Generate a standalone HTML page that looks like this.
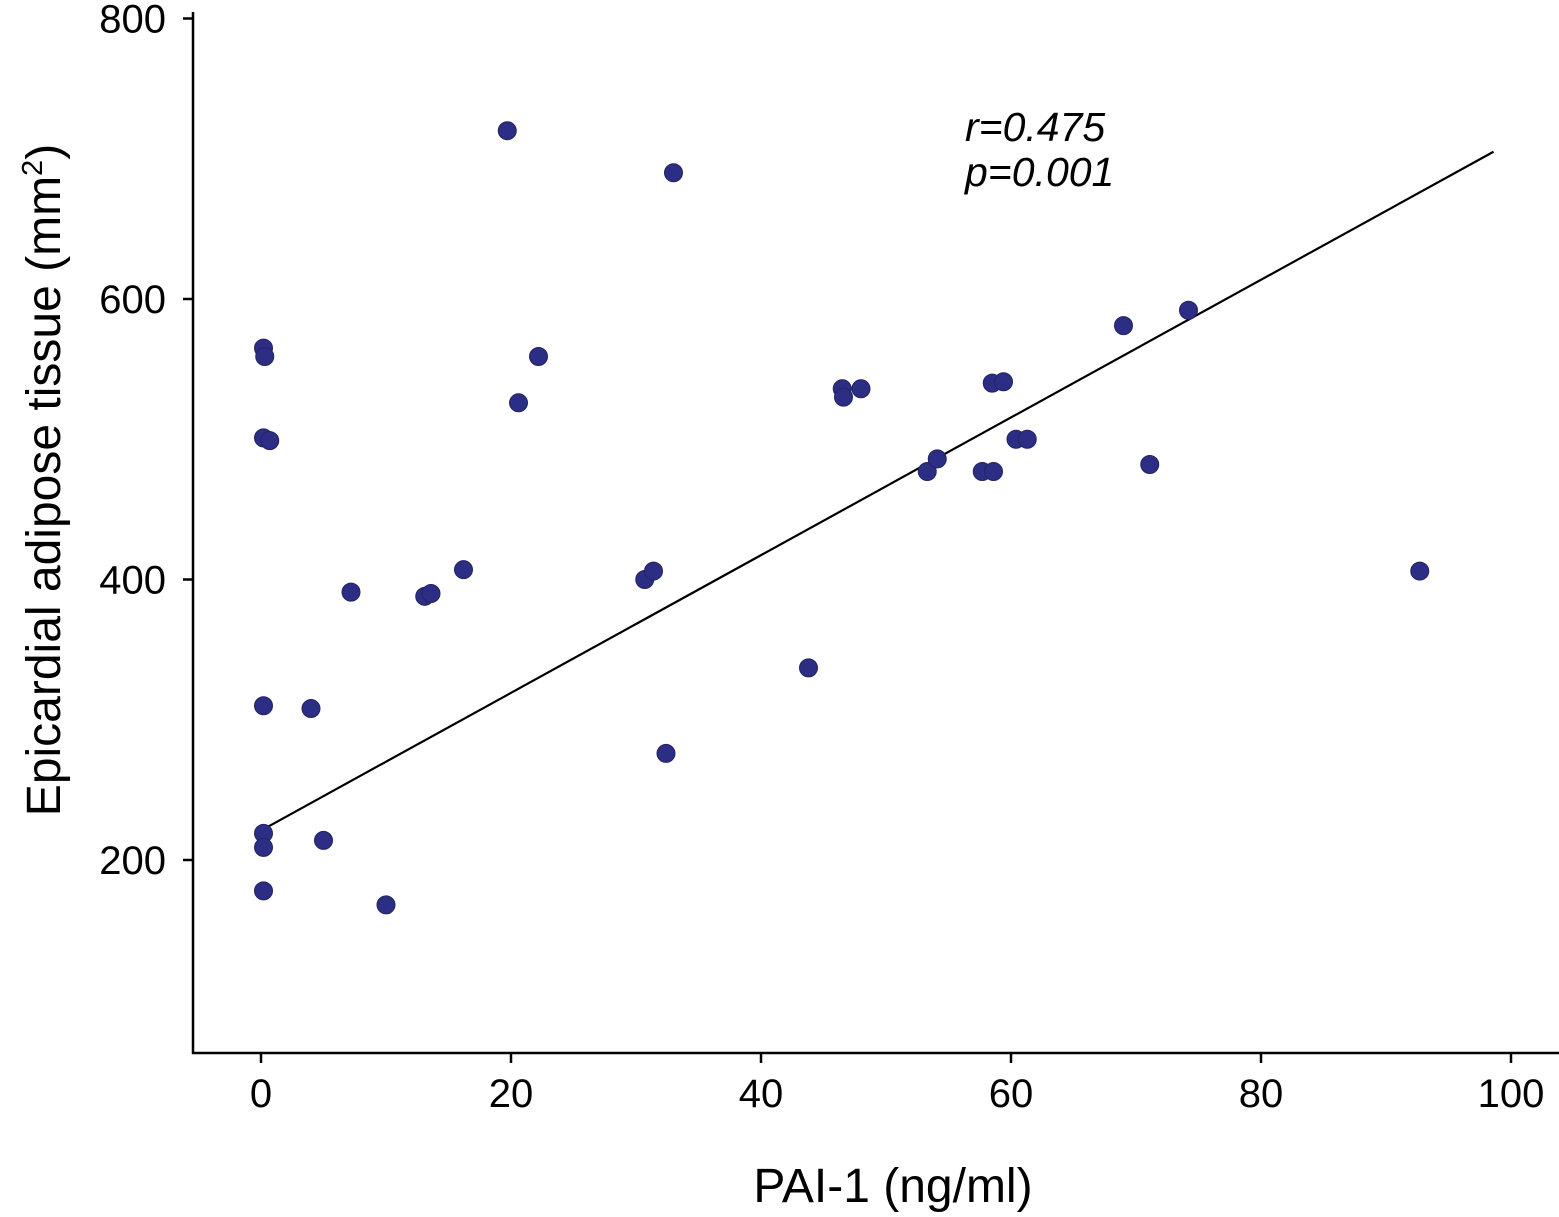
<!DOCTYPE html>
<html><head><meta charset="utf-8"><style>
html,body{margin:0;padding:0;background:#fff;}
svg text{font-family:"Liberation Sans",Arial,sans-serif;fill:#000;}
</style></head><body>
<svg id="chart" width="1559" height="1212" viewBox="0 0 1559 1212" xmlns="http://www.w3.org/2000/svg">
<g id="axes"></g>
<g id="marks"></g>
<text transform="translate(60,480) rotate(-90)" text-anchor="middle" font-size="48">Epicardial adipose tissue (mm<tspan font-size="29" dy="-18">2</tspan><tspan dy="18">)</tspan></text>
<text x="893" y="1202" text-anchor="middle" font-size="48">PAI-1 (ng/ml)</text>
<text x="965" y="141" font-size="41" font-style="italic">r=0.475</text>
<text x="965" y="186" font-size="41" font-style="italic">p=0.001</text>
</svg>
<script>
const xTicks=[0,20,40,60,80,100];
const yTicks=[200,400,600,800];
const xVals=[0.2,0.3,0.2,0.7,0.2,0.2,0.2,0.2,4,5,7.2,10,13.1,13.6,16.2,19.7,20.6,22.2,30.7,31.4,32.4,33,43.8,46.5,46.6,48,53.3,54.1,57.7,58.6,58.5,59.4,60.4,61.3,69,71.1,74.2,92.7];
const yVals=[565,559,501,499,310,219,209,178,308,214,391,168,388,390,407,720,526,559,400,406,276,690,337,536,530,536,477,486,477,477,540,541,500,500,581,482,592,406];
const fitX=[0,98.6];
const fitY=[221,705];
const NS='http://www.w3.org/2000/svg';
function sx(v){return 261+v*12.5;}
function sy(v){return 860-(v-200)*1.4025;}
const axes=document.getElementById('axes');
function mk(tag,attrs,parent){const e=document.createElementNS(NS,tag);for(const k in attrs)e.setAttribute(k,attrs[k]);parent.appendChild(e);return e;}
let l=mk('line',{x1:193,y1:12,x2:193,y2:1054,stroke:'#000','stroke-width':2.5},axes);


l=mk('line',{x1:192,y1:1053,x2:1559,y2:1053,stroke:'#000','stroke-width':2.5},axes);


xTicks.forEach(t=>{
  const x=sx(t);
  const tk=mk('line',{x1:x,y1:1053,x2:x,y2:1063,stroke:'#000','stroke-width':2.5},axes);
  
  
  const tx=mk('text',{x:x,y:1107,'text-anchor':'middle','font-size':40},axes);
  tx.textContent=t;
  
  
});
yTicks.forEach(t=>{
  const y=sy(t);
  const tk=mk('line',{x1:183,y1:y,x2:193,y2:y,stroke:'#000','stroke-width':2.5},axes);
  
  
  const tx=mk('text',{x:166,y:y+14,'text-anchor':'end','font-size':40},axes);
  tx.textContent=t;
  
  
});
const marks=document.getElementById('marks');
const fl=mk('line',{x1:sx(fitX[0]),y1:sy(fitY[0]),x2:sx(fitX[1]),y2:sy(fitY[1]),stroke:'#000','stroke-width':2.2},marks);


xVals.forEach((v,i)=>{
  const c=mk('circle',{cx:sx(v),cy:sy(yVals[i]),r:9,fill:'#2c2d85',stroke:'#23245e','stroke-width':1},marks);
  
  
});
</script>
</body></html>
